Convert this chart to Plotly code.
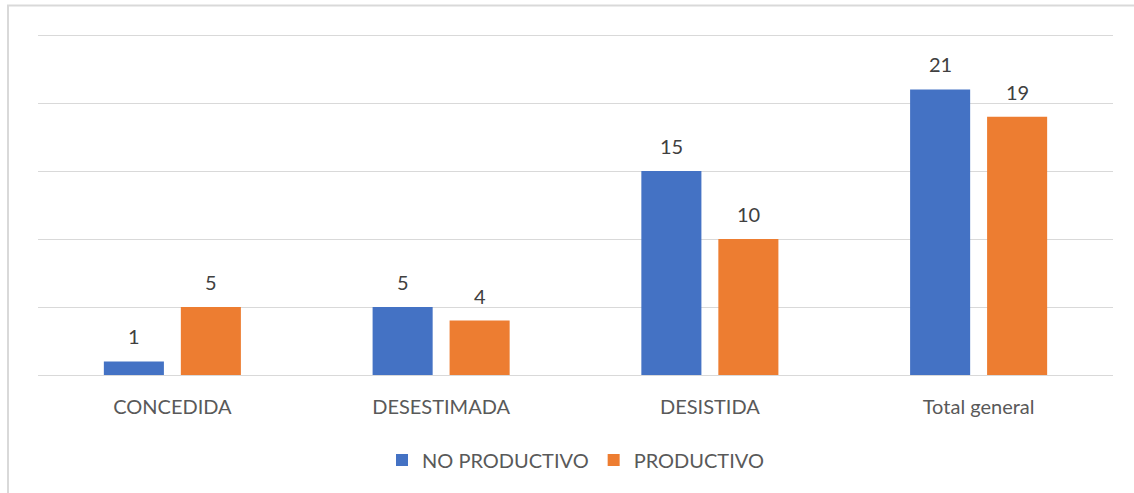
import plotly.graph_objects as go

categories = ["CONCEDIDA", "DESESTIMADA", "DESISTIDA", "Total general"]
no_productivo = [1, 5, 15, 21]
productivo = [5, 4, 10, 19]

W, H = 1134, 493
YMAX = 25.3
PX_PER_UNIT = 68 / 5
L, R, B = 38, 21, 118
T = 35 - (YMAX - 25) * PX_PER_UNIT
FONT = "Lato, Open Sans, sans-serif"
FS = 20

fig = go.Figure()
fig.add_trace(go.Bar(name="NO PRODUCTIVO", x=categories, y=no_productivo,
                     marker=dict(color="#4472C4", line=dict(width=0))))
fig.add_trace(go.Bar(name="PRODUCTIVO", x=categories, y=productivo,
                     marker=dict(color="#ED7D31", line=dict(width=0))))

pw = W - L - R
ph = H - T - B
def px2x(p): return (p - L) / pw
def py2y(p): return (H - B - p) / ph

cat_w = pw / len(categories)
bargap = 0.427
bargroupgap = 0.22
slot = cat_w * (1 - bargap) / 2
offs = [-slot / 2, slot / 2]

annotations = []
for vals, off in ((no_productivo, offs[0]), (productivo, offs[1])):
    for c, v in zip(categories, vals):
        annotations.append(dict(x=c, y=v, xref="x", yref="y", text=str(v), showarrow=False,
                                xshift=off, yshift=25, yanchor="middle",
                                font=dict(family=FONT, size=FS, color="#404040")))

fig.update_layout(
    width=W, height=H,
    margin=dict(l=L, r=R, t=T, b=B, autoexpand=False),
    paper_bgcolor="white", plot_bgcolor="white",
    font=dict(family=FONT, color="#595959", size=FS),
    barmode="group", bargap=bargap, bargroupgap=bargroupgap,
    xaxis=dict(showgrid=False, showline=False, ticks="", ticklabelstandoff=18,
               tickfont=dict(size=FS, color="#595959")),
    yaxis=dict(range=[0, YMAX], tickvals=[0, 5, 10, 15, 20, 25], showgrid=True, gridcolor="#D9D9D9", gridwidth=1,
               showticklabels=False, zeroline=True, zerolinecolor="#D9D9D9", zerolinewidth=1, ticks=""),
    legend=dict(orientation="h", x=0.5, xanchor="center", y=py2y(460), yanchor="middle",
                font=dict(size=FS, color="#595959"), itemwidth=30, traceorder="normal"),
    annotations=annotations,
    shapes=[dict(type="rect", xref="paper", yref="paper",
                 x0=px2x(8), x1=px2x(1140), y0=py2y(500), y1=py2y(5.5),
                 line=dict(color="#D9D9D9", width=2), fillcolor="rgba(0,0,0,0)", layer="below")],
)
fig.write_html("out.html", config={"displayModeBar": False},
               post_script="document.body.style.margin='0';document.body.style.overflow='hidden';")
